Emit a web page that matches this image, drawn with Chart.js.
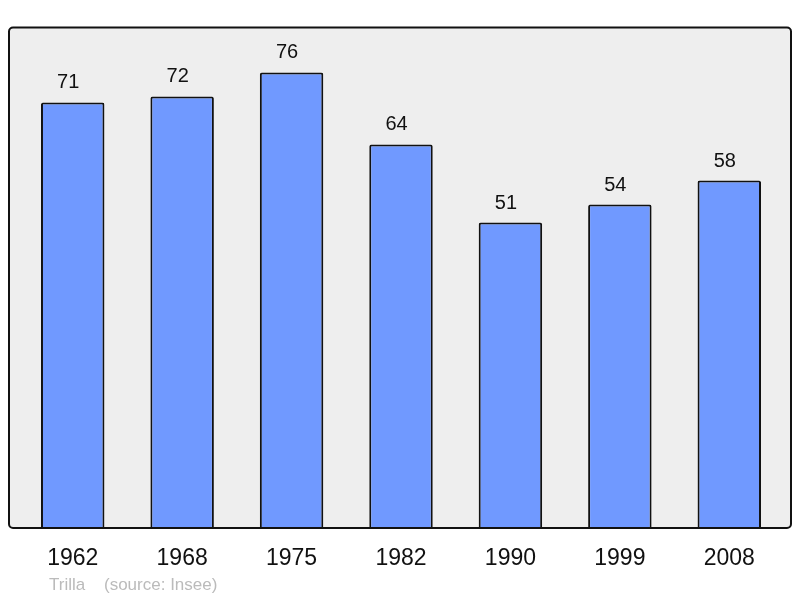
<!DOCTYPE html>
<html>
<head>
<meta charset="utf-8">
<script src="https://cdn.jsdelivr.net/npm/chart.js@4/dist/chart.umd.min.js"></script>
<style>
html,body{margin:0;padding:0;background:#fff;}
#wrap{width:800px;height:598px;position:relative;}
</style>
</head>
<body>
<div id="wrap"><canvas id="c" width="800" height="598"></canvas></div>
<script>
const years = ["1962","1968","1975","1982","1990","1999","2008"];
const population = [71, 72, 76, 64, 51, 54, 58];
const footerName = "Trilla";
const footerSource = "(source: Insee)";

const FONT = "'Liberation Sans', Arial, sans-serif";

const framePlugin = {
  id: 'frame',
  beforeDraw(chart) {
    const ctx = chart.ctx;
    ctx.save();
    ctx.fillStyle = '#ffffff';
    ctx.fillRect(0, 0, chart.width, chart.height);
    ctx.beginPath();
    ctx.roundRect(9, 27.5, 782, 500.5, 4);
    ctx.fillStyle = '#eeeeee';
    ctx.fill();
    ctx.restore();
  },
  afterDatasetsDraw(chart) {
    const ctx = chart.ctx;
    ctx.save();
    const meta = chart.getDatasetMeta(0);
    ctx.fillStyle = '#111111';
    ctx.font = '20px ' + FONT;
    ctx.textAlign = 'center';
    ctx.textBaseline = 'alphabetic';
    meta.data.forEach((bar, i) => {
      ctx.fillText(String(population[i]), bar.x - 4.5, bar.y - 14);
    });
    ctx.beginPath();
    ctx.roundRect(9, 27.5, 782, 500.5, 4);
    ctx.lineWidth = 2;
    ctx.strokeStyle = '#111111';
    ctx.stroke();
    ctx.fillStyle = '#bbbbbb';
    ctx.font = '17px ' + FONT;
    ctx.textAlign = 'left';
    ctx.fillText(footerName, 49, 590);
    ctx.fillText(footerSource, 104, 590);
    ctx.restore();
  }
};

new Chart(document.getElementById('c'), {
  type: 'bar',
  data: {
    labels: years,
    datasets: [{
      data: population,
      backgroundColor: '#7099ff',
      borderColor: '#111111',
      borderWidth: 2,
      borderSkipped: 'bottom',
      borderRadius: 2,
      categoryPercentage: 1,
      barPercentage: 0.58
    }]
  },
  options: {
    responsive: false,
    animation: false,
    devicePixelRatio: 1,
    layout: { padding: { left: 18, right: 16, top: 28, bottom: 9.6 } },
    plugins: { legend: { display: false }, tooltip: { enabled: false } },
    scales: {
      x: {
        grid: { display: false, drawTicks: false },
        border: { display: false },
        ticks: { color: '#111111', font: { family: FONT, size: 23 }, padding: 16 }
      },
      y: {
        display: false,
        min: 0,
        max: 83.4
      }
    }
  },
  plugins: [framePlugin]
});
</script>
</body>
</html>
